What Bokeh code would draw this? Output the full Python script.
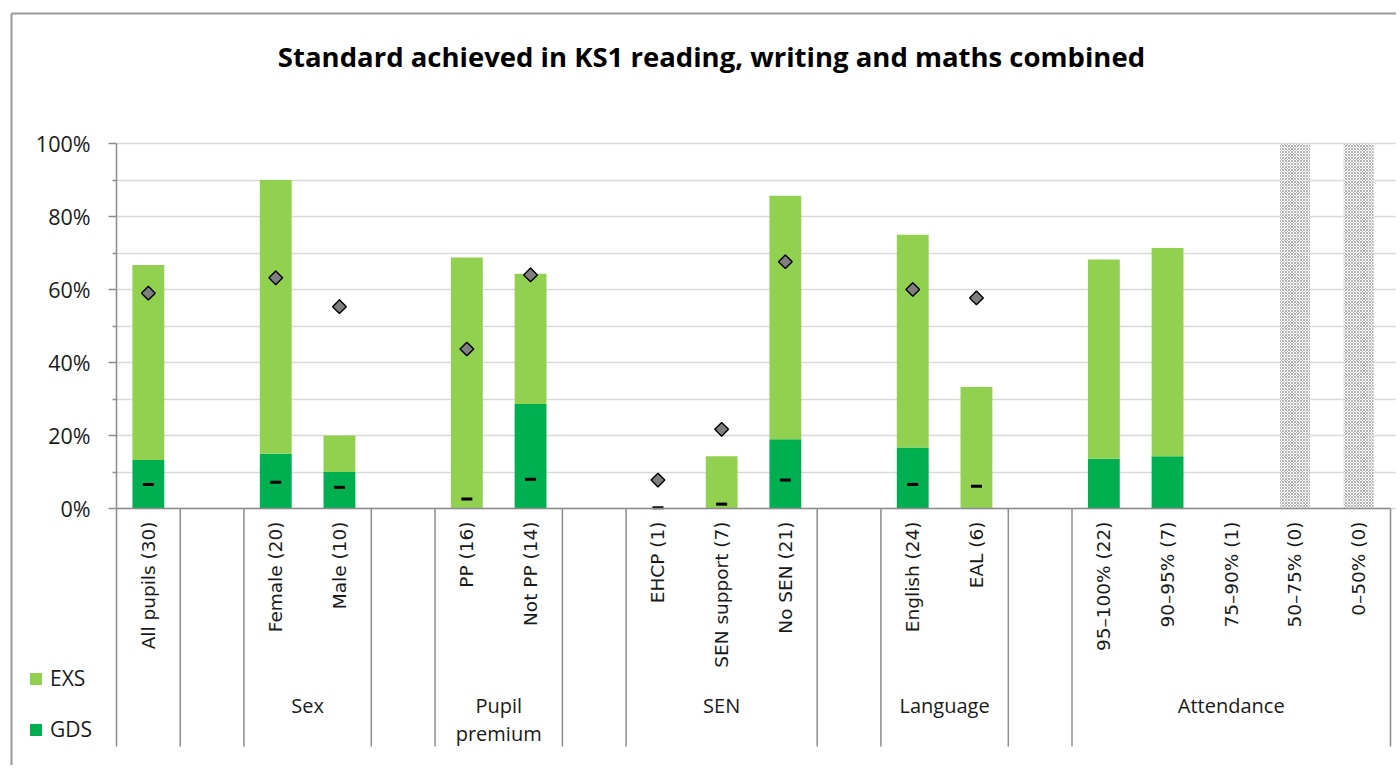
import numpy as np
from bokeh.plotting import figure
from bokeh.models import (ColumnDataSource, FixedTicker, PrintfTickFormatter,
                          Legend, LegendItem, Range1d, LinearAxis, Grid,
                          BoxAnnotation)
from bokeh.core.properties import value
from bokeh.embed import file_html
from bokeh.resources import INLINE

nan = float("nan")

title_text = "Standard achieved in KS1 reading, writing and maths combined"

categories = ["All pupils (30)", "", "Female (20)", "Male (10)", "",
              "PP (16)", "Not PP (14)", "", "EHCP (1)", "SEN support (7)",
              "No SEN (21)", "", "English (24)", "EAL (6)", "",
              "95–100% (22)", "90–95% (7)", "75–90% (1)", "50–75% (0)", "0–50% (0)"]

group_of = ["All", "", "Sex", "Sex", "", "Pupil\npremium", "Pupil\npremium", "",
            "SEN", "SEN", "SEN", "", "Language", "Language", "",
            "Attendance", "Attendance", "Attendance", "Attendance", "Attendance"]

# % of pupils reaching EXS or above (total bar height) and GDS
exs_total = [66.7, nan, 90.0, 20.0, nan, 68.8, 64.3, nan, 0.0, 14.3,
             85.7, nan, 75.0, 33.3, nan, 68.2, 71.4, 0.0, 0.0, 0.0]
gds = [13.3, nan, 15.0, 10.0, nan, 0.0, 28.6, nan, 0.0, 0.0,
       19.0, nan, 16.7, 0.0, nan, 13.6, 14.3, 0.0, 0.0, 0.0]
# comparison markers (diamond = EXS, dash = GDS)
cmp_exs = [59.0, nan, 63.2, 55.3, nan, 43.7, 64.0, nan, 7.8, 21.7,
           67.6, nan, 60.0, 57.7, nan, nan, nan, nan, nan, nan]
cmp_gds = [6.6, nan, 7.2, 5.8, nan, 2.6, 8.0, nan, 0.2, 1.2,
           7.8, nan, 6.6, 6.1, nan, nan, nan, nan, nan, nan]
# groups with no pupils (hatched)
no_pupils = [0, 0, 0, 0, 0, 0, 0, 0, 0, 0,
             0, 0, 0, 0, 0, 0, 0, 0, 100, 100]

y_ticks = [0, 20, 40, 60, 80, 100]
y_minor = [10, 30, 50, 70, 90]

EXS_C = "#92D050"
GDS_C = "#00B050"
AX_C = "#8c8c8c"
GRID_C = "#d9d9d9"
TXT = "#1a1a1a"

# ---- layout (canvas pixels) ----
W, H = 1396, 765
X0_PX = 116.0      # canvas x of the value axis (slot 0)
SLOT_PX = 63.7     # width of one category slot
Y0_PX = 508.0      # canvas y of 0 %
PCT_PX = 3.65      # pixels per percentage point
LABEL_BAND = 238   # depth of the category label band below 0 %
BORDER_X, BORDER_Y = 11, 13   # outer chart border (left / top)

x_lo = -X0_PX / SLOT_PX
x_hi = (W - X0_PX) / SLOT_PX
y_hi = Y0_PX / PCT_PX
y_lo = -(H - Y0_PX) / PCT_PX
y_band = -LABEL_BAND / PCT_PX

n = len(categories)
xs = [i + 0.5 for i in range(n)]
src = ColumnDataSource(dict(x=xs, gds=gds, exs_total=exs_total,
                            cmp_exs=cmp_exs, cmp_gds=cmp_gds,
                            nop=[v if v else nan for v in no_pupils]))

p = figure(width=W, height=H, output_backend="svg", toolbar_location=None,
           x_range=Range1d(x_lo, x_hi), y_range=Range1d(y_lo, y_hi),
           x_axis_location=None, y_axis_location=None, title_location=None,
           min_border=0)
p.outline_line_color = None
p.background_fill_color = "white"
p.border_fill_color = "white"
for g in p.grid:
    g.visible = False

# outer chart border (left and top edges)
bx = x_lo + BORDER_X / SLOT_PX
by = y_hi - BORDER_Y / PCT_PX
p.segment(x0=[bx, bx], y0=[y_lo, by], x1=[bx, x_hi], y1=[by, by],
          line_color="#9a9a9a", line_width=2)

# grid (0-100 %), masked left of the value axis
grid = Grid(dimension=1, ticker=FixedTicker(ticks=y_ticks, minor_ticks=y_minor),
            grid_line_color=GRID_C, grid_line_width=1.5,
            minor_grid_line_color=GRID_C, minor_grid_line_width=1.5)
p.add_layout(grid)
p.add_layout(BoxAnnotation(left=x_lo, right=0, bottom=y_lo, top=y_hi,
                           fill_color="white", fill_alpha=1, line_color=None,
                           level="underlay"))

# bars
r_nop = p.vbar(x="x", top="nop", bottom=0, width=0.47, source=src,
               fill_color="white", line_color=None,
               hatch_pattern="diagonal_cross", hatch_color="#b3b3b3",
               hatch_scale=3, hatch_weight=1)
r_gds = p.vbar(x="x", top="gds", bottom=0, width=0.5, source=src,
               fill_color=GDS_C, line_color=None)
r_exs = p.vbar(x="x", top="exs_total", bottom="gds", width=0.5, source=src,
               fill_color=EXS_C, line_color=None)

# comparison markers
p.scatter(x="x", y="cmp_exs", source=src, marker="square", angle=np.pi / 4,
          size=9.7, fill_color="#7f7f7f", line_color="black", line_width=1.4)
p.scatter(x="x", y="cmp_gds", source=src, marker="dash", size=11,
          line_color="black", line_width=3)

# separators between category groups in the label band
separators = [i for i in range(1, n) if group_of[i] != group_of[i - 1]] + [n]
p.segment(x0=separators, y0=[0] * len(separators), x1=separators,
          y1=[y_band] * len(separators), line_color=AX_C, line_width=1.5)

# value axis, fixed at slot 0
ya = LinearAxis(fixed_location=0, bounds=(y_band, 100),
                ticker=FixedTicker(ticks=y_ticks, minor_ticks=y_minor),
                formatter=PrintfTickFormatter(format="%d%%"))
ya.axis_line_color = AX_C
ya.axis_line_width = 1.5
ya.major_tick_line_color = AX_C
ya.major_tick_line_width = 1.5
ya.major_tick_in = 0
ya.major_tick_out = 8
ya.minor_tick_line_color = AX_C
ya.minor_tick_line_width = 1.5
ya.minor_tick_in = 0
ya.minor_tick_out = 4
ya.major_label_standoff = 18
ya.major_label_text_font = "Open Sans"
ya.major_label_text_font_size = "21.5px"
ya.major_label_text_color = TXT
p.add_layout(ya, "left")

# category axis, fixed at 0 %, labels at slot centres
labeled = [i for i in range(n) if categories[i]]
xa = LinearAxis(fixed_location=0, bounds=(0, n),
                ticker=FixedTicker(ticks=[xs[i] for i in labeled], minor_ticks=[]))
xa.major_label_overrides = {xs[i]: categories[i] for i in labeled}
xa.major_label_orientation = np.pi / 2
xa.major_label_standoff = 13
xa.major_label_text_font = "DejaVu Sans"
xa.major_label_text_font_size = "18.5px"
xa.major_label_text_color = TXT
xa.major_tick_line_color = None
xa.major_tick_in = 0
xa.major_tick_out = 0
xa.minor_tick_line_color = None
xa.minor_tick_in = 0
xa.minor_tick_out = 0
xa.axis_line_color = AX_C
xa.axis_line_width = 1.5
p.add_layout(xa, "below")

# group labels
groups = []
for g in group_of:
    if g and g != "All" and g not in groups:
        groups.append(g)
gx, gy, gt = [], [], []
for g in groups:
    idx = [i for i in range(n) if group_of[i] == g]
    cx = (idx[0] + idx[-1] + 1) / 2
    for k, line in enumerate(g.split("\n")):
        gx.append(cx)
        gy.append(-54.0 - 7.7 * k)
        gt.append(line)
p.text(x=gx, y=gy, text=gt, text_align="center", text_baseline="middle",
       text_font=value("Open Sans"), text_font_size="20px", text_color=TXT)

# title
p.text(x=[9.34], y=[123.8], text=[title_text], text_align="center",
       text_baseline="middle", text_font=value("Open Sans"),
       text_font_style="bold", text_font_size="27.5px", text_color="black")

# legend
legend = Legend(items=[LegendItem(label="EXS", renderers=[r_exs]),
                       LegendItem(label="GDS", renderers=[r_gds])],
                location=(28, H - 743), orientation="vertical")
legend.glyph_width = 15
legend.glyph_height = 15
legend.label_height = 26
legend.spacing = 23
legend.padding = 0
legend.margin = 0
legend.label_standoff = 7
legend.label_text_font = "Open Sans"
legend.label_text_font_size = "21px"
legend.label_text_color = TXT
legend.border_line_color = None
legend.background_fill_alpha = 0
p.add_layout(legend)

open("out.html", "w").write(file_html(p, INLINE))
